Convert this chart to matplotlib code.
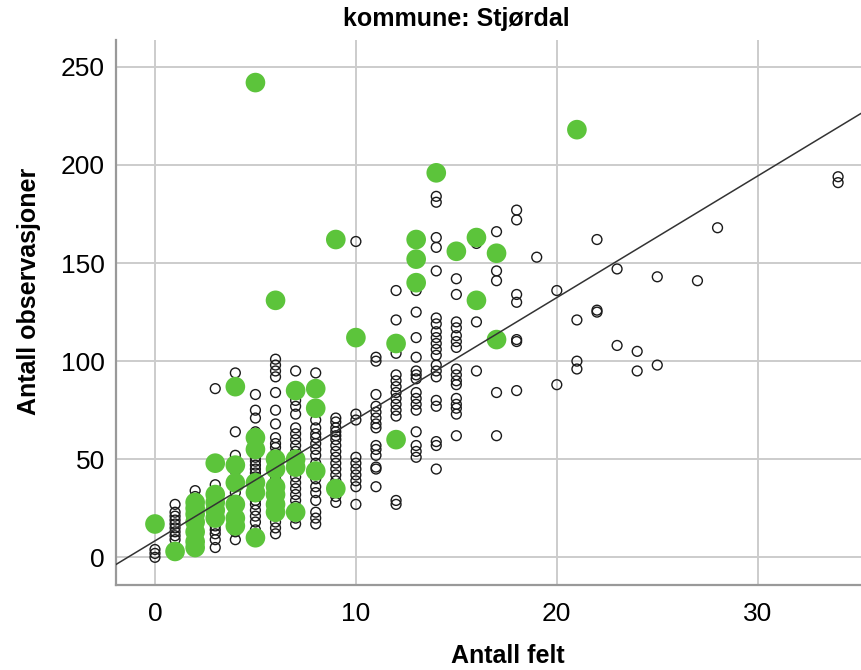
import numpy as np
import matplotlib
matplotlib.use("Agg")
import matplotlib.pyplot as plt

matplotlib.rcParams['font.family'] = ['Liberation Sans', 'DejaVu Sans']

# ---- data ----
# other municipalities (open black circles): x -> list of y
other_cols = {
    0: [0, 2, 4],
    1: [9, 11, 13, 15, 17, 19, 21, 23, 27],
    2: [7, 10, 12, 15, 18, 21, 24, 28, 31, 34],
    3: [5, 9, 12, 14, 16, 19, 22, 26, 30, 37, 86],
    4: [9, 13, 17, 22, 28, 33, 44, 52, 64, 94],
    5: [14, 18, 21, 24, 27, 29, 31, 33, 35, 37, 39, 41, 43, 45, 47, 49, 51,
        54, 57, 60, 64, 71, 75, 83],
    6: [12, 15, 18, 21, 26, 29, 40, 43, 47, 50, 53, 56, 58, 61, 68, 75, 84,
        92, 95, 98, 101],
    7: [17, 20, 26, 29, 32, 35, 38, 41, 44, 48, 51, 54, 57, 60, 63, 66, 73,
        77, 80, 95],
    8: [17, 20, 23, 29, 33, 36, 40, 48, 52, 55, 58, 61, 63, 66, 70, 94],
    9: [28, 31, 34, 39, 42, 45, 48, 51, 54, 57, 60, 62, 64, 66, 69, 71],
    10: [27, 36, 39, 42, 45, 48, 51, 70, 73, 161],
    11: [36, 45, 46, 52, 55, 57, 66, 68, 71, 74, 77, 83, 100, 102],
    12: [27, 29, 72, 75, 78, 81, 84, 87, 90, 93, 104, 121, 136],
    13: [51, 54, 57, 64, 75, 78, 81, 84, 91, 93, 95, 102, 112, 125, 136],
    14: [45, 57, 59, 77, 80, 92, 95, 98, 103, 106, 109, 112, 115, 119, 122,
         146, 158, 163, 181, 184],
    15: [62, 73, 76, 78, 81, 88, 90, 93, 96, 107, 110, 113, 117, 120, 134, 142],
    16: [95, 120, 160],
    17: [62, 84, 141, 146, 166],
    18: [85, 110, 111, 130, 134, 172, 177],
    19: [153],
    20: [88, 136],
    21: [96, 100, 121],
    22: [125, 126, 162],
    23: [108, 147],
    24: [95, 105],
    25: [98, 143],
    27: [141],
    28: [168],
    34: [191, 194],
}

# Stjørdal (green dots)
stj_x = [0, 1, 2, 2, 2, 2, 2, 2, 2, 3, 3, 3, 3, 3, 4, 4, 4, 4, 4, 4,
         5, 5, 5, 5, 5, 5, 6, 6, 6, 6, 6, 6, 6, 7, 7, 7, 7, 8, 8, 8,
         9, 9, 10, 12, 12, 13, 13, 13, 14, 15, 16, 16, 17, 17, 21]
stj_y = [17, 3, 5, 8, 13, 18, 22, 25, 28, 48, 32, 28, 24, 20, 87, 47, 38, 27, 20, 16,
         242, 61, 55, 38, 33, 10, 131, 50, 45, 36, 32, 27, 23, 85, 50, 46, 23, 86, 76, 44,
         162, 35, 112, 109, 60, 162, 152, 140, 196, 156, 163, 131, 155, 111, 218]

# fitted line
fit_intercept = 8.4
fit_slope = 6.2

xticks = [0, 10, 20, 30]
yticks = [0, 50, 100, 150, 200, 250]

other_x = [x for x, ys in other_cols.items() for _ in ys]
other_y = [y for ys in other_cols.values() for y in ys]

fig = plt.figure(figsize=(8.61, 6.70), dpi=100)
ax = fig.add_axes([116/861, 85/670, 1 - 116/861, 545/670])

ax.scatter(other_x, other_y, s=50, facecolors='none', edgecolors='#1a1a1a',
           linewidths=1.0, zorder=3)
ax.scatter(stj_x, stj_y, s=200, color='#5cc43b', edgecolors='none', zorder=4)

xl = (-1.94, 35.14)
xx = np.array(xl)
ax.plot(xx, fit_intercept + fit_slope*xx, color='#333333', lw=1.1, zorder=5)

ax.set_xlim(*xl)
ax.set_ylim(-14.1, 263.7)
ax.set_xticks(xticks)
ax.set_yticks(yticks)
ax.grid(True, color='#cccccc', lw=1.4, zorder=0)
ax.set_axisbelow(True)
for s in ['top', 'right']:
    ax.spines[s].set_visible(False)
for s in ['left', 'bottom']:
    ax.spines[s].set_color('#999999')
    ax.spines[s].set_linewidth(1.6)
ax.tick_params(length=0, labelsize=19, colors='#000000', pad=8)
ax.tick_params(axis='x', pad=12)

fig.text(456/861, 1 - 19/670, 'kommune: Stjørdal', ha='center', va='center',
         fontsize=18, fontweight='bold')
fig.text(29/861, 1 - 291/670, 'Antall observasjoner', ha='center', va='center',
         rotation=90, fontsize=18, fontweight='bold')
fig.text(508/861, 1 - 656/670, 'Antall felt', ha='center', va='center',
         fontsize=18, fontweight='bold')

plt.savefig('out.png', dpi=100)
